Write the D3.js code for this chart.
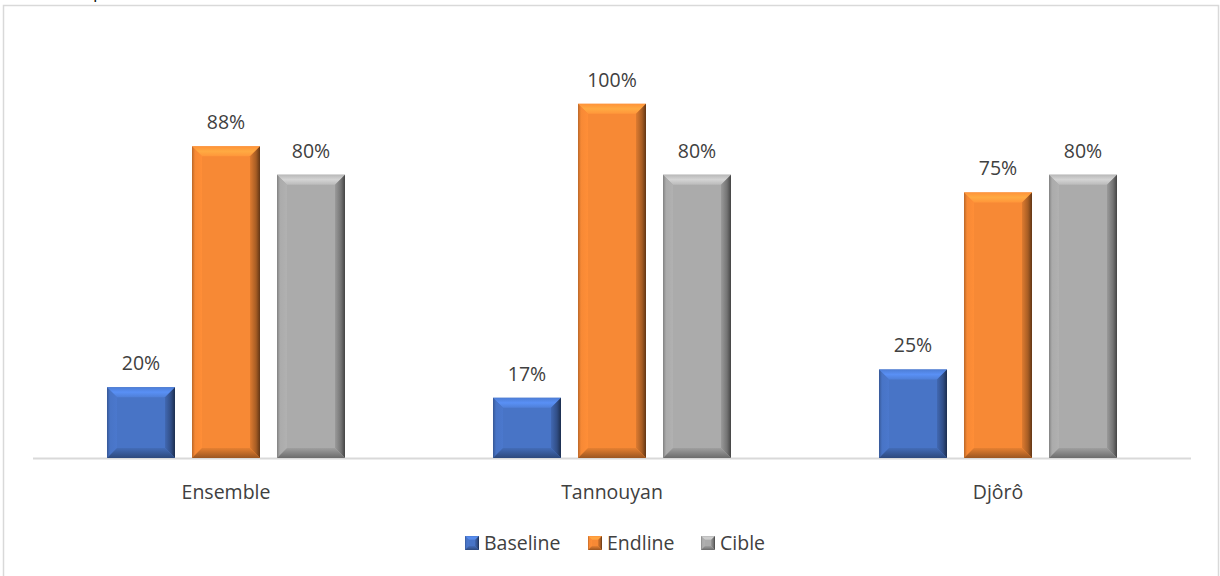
<!DOCTYPE html>
<html>
<head>
<meta charset="utf-8">
<script src="https://cdn.jsdelivr.net/npm/d3@7"></script>
<style>
  html, body { margin: 0; padding: 0; background: #fff; }
  svg { display: block; font-family: "Open Sans", "Noto Sans", sans-serif; }
</style>
</head>
<body>
<svg id="chart" width="1220" height="576"></svg>
<script>
// Chart data
const categories = ["Ensemble", "Tannouyan", "Djôrô"];
const seriesNames = ["Baseline", "Endline", "Cible"];
const baseline = [20, 17, 25];
const endline = [88, 100, 75];
const cible = [80, 80, 80];
const seriesColors = ["#4874c6", "#f78935", "#ababab"];

const seriesValues = [baseline, endline, cible];

const svg = d3.select("#chart");
const FONT = 19.5;

// Fragment of the paragraph text sitting just above the chart frame
svg.append("text")
  .attr("x", 93).attr("y", -2)
  .attr("font-size", 18).attr("fill", "#111")
  .text("p");

// Chart frame
svg.append("rect")
  .attr("x", 3.5).attr("y", 5.5)
  .attr("width", 1215).attr("height", 600)
  .attr("fill", "#fff")
  .attr("stroke", "#d9d9d9").attr("stroke-width", 1.5);

const plot = { left: 33, right: 1191, top: 33, bottom: 458 };

const x0 = d3.scaleBand()
  .domain(categories)
  .range([plot.left, plot.right])
  .paddingInner(0).paddingOuter(0);

const x1 = d3.scaleBand()
  .domain(seriesNames)
  .range([0, x0.bandwidth() * 0.6166])
  .paddingInner(0.2).paddingOuter(0);

const y = d3.scaleLinear()
  .domain([0, 120])
  .range([plot.bottom, plot.top]);

// Gradient definitions for bevelled bar faces
const defs = svg.append("defs");
function shade(c, k) { return d3.color(c).darker(k).formatHex(); }
function tint(c, k) { return d3.color(c).brighter(k).formatHex(); }

seriesColors.forEach((c, i) => {
  const gTop = defs.append("linearGradient").attr("id", "top" + i)
    .attr("x1", 0).attr("y1", 0).attr("x2", 0).attr("y2", 1);
  gTop.append("stop").attr("offset", 0).attr("stop-color", tint(c, 0.2));
  gTop.append("stop").attr("offset", 0.5).attr("stop-color", tint(c, 0.6));
  gTop.append("stop").attr("offset", 1).attr("stop-color", tint(c, 0.25));

  const gRight = defs.append("linearGradient").attr("id", "right" + i)
    .attr("x1", 0).attr("y1", 0).attr("x2", 1).attr("y2", 0);
  gRight.append("stop").attr("offset", 0).attr("stop-color", shade(c, 0.3));
  gRight.append("stop").attr("offset", 0.6).attr("stop-color", shade(c, 1.1));
  gRight.append("stop").attr("offset", 1).attr("stop-color", shade(c, 2.6));

  const gBottom = defs.append("linearGradient").attr("id", "bottom" + i)
    .attr("x1", 0).attr("y1", 0).attr("x2", 0).attr("y2", 1);
  gBottom.append("stop").attr("offset", 0).attr("stop-color", shade(c, 0.2));
  gBottom.append("stop").attr("offset", 1).attr("stop-color", shade(c, 1.3));

  const gLeft = defs.append("linearGradient").attr("id", "left" + i)
    .attr("x1", 0).attr("y1", 0).attr("x2", 1).attr("y2", 0);
  gLeft.append("stop").attr("offset", 0).attr("stop-color", shade(c, 0.8));
  gLeft.append("stop").attr("offset", 0.3).attr("stop-color", c);
  gLeft.append("stop").attr("offset", 1).attr("stop-color", tint(c, 0.1));
});

// Axis baseline
svg.append("line")
  .attr("x1", plot.left).attr("x2", plot.right)
  .attr("y1", plot.bottom + 0.5).attr("y2", plot.bottom + 0.5)
  .attr("stroke", "#d9d9d9").attr("stroke-width", 2);

// Bevelled bar drawing
function bevelBar(g, x, yTop, w, h, i, b) {
  const x2 = x + w, y2 = yTop + h;
  const bb = Math.min(b, w / 2, h / 2);
  g.append("rect").attr("x", x).attr("y", yTop).attr("width", w).attr("height", h)
    .attr("fill", seriesColors[i]);
  // top facet
  g.append("path").attr("d", `M${x},${yTop}L${x2},${yTop}L${x2 - bb},${yTop + bb}L${x + bb},${yTop + bb}Z`)
    .attr("fill", `url(#top${i})`);
  // left facet
  g.append("path").attr("d", `M${x},${yTop}L${x + bb},${yTop + bb}L${x + bb},${y2 - bb}L${x},${y2}Z`)
    .attr("fill", `url(#left${i})`);
  // right facet
  g.append("path").attr("d", `M${x2},${yTop}L${x2},${y2}L${x2 - bb},${y2 - bb}L${x2 - bb},${yTop + bb}Z`)
    .attr("fill", `url(#right${i})`);
  // bottom facet
  g.append("path").attr("d", `M${x},${y2}L${x + bb},${y2 - bb}L${x2 - bb},${y2 - bb}L${x2},${y2}Z`)
    .attr("fill", `url(#bottom${i})`);
}

const groups = svg.selectAll("g.cat")
  .data(categories)
  .join("g")
  .attr("class", "cat")
  .attr("transform", d => `translate(${x0(d) + (x0.bandwidth() - x1.range()[1]) / 2},0)`);

groups.each(function (cat, ci) {
  const g = d3.select(this);
  seriesNames.forEach((s, si) => {
    const v = seriesValues[si][ci];
    const bx = x1(s);
    const bw = x1.bandwidth();
    const top = y(v);
    bevelBar(g, bx, top, bw, y(0) - top, si, 10);
    g.append("text")
      .attr("x", bx + bw / 2)
      .attr("y", top - 17)
      .attr("text-anchor", "middle")
      .attr("font-size", FONT)
      .attr("fill", "#404040")
      .text(v + "%");
  });
});

// Category axis labels
const xAxis = d3.axisBottom(x0).tickSize(0).tickPadding(0);
const axisG = svg.append("g")
  .attr("transform", `translate(0,${plot.bottom})`)
  .call(xAxis);
axisG.select(".domain").remove();
axisG.selectAll("text")
  .attr("y", 41)
  .attr("dy", 0)
  .attr("font-size", FONT)
  .attr("font-family", "'Open Sans', 'Noto Sans', sans-serif")
  .attr("fill", "#404040");

// Legend
const legendX = [465, 588, 701];
const legend = svg.append("g");
seriesNames.forEach((s, i) => {
  const lg = legend.append("g").attr("transform", `translate(${legendX[i]},536)`);
  bevelBar(lg, 0, 0, 14, 14, i, 4);
  lg.append("text")
    .attr("x", 19).attr("y", 14)
    .attr("font-size", FONT).attr("fill", "#404040")
    .text(s);
});
</script>
</body>
</html>
